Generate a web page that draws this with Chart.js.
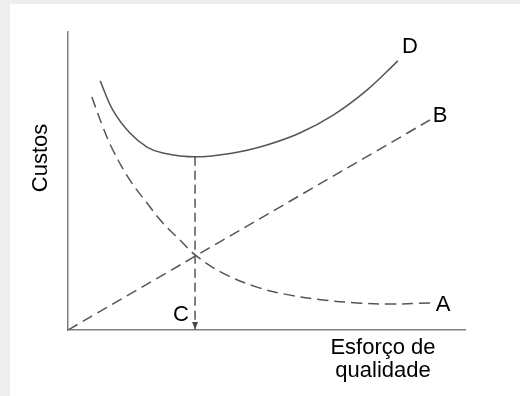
<!DOCTYPE html>
<html>
<head>
<meta charset="utf-8">
<script src="https://cdn.jsdelivr.net/npm/chart.js@4.4.1/dist/chart.umd.min.js"></script>
<style>
  html, body { margin: 0; padding: 0; background: #fff; }
  #wrap { width: 520px; height: 396px; }
</style>
</head>
<body>
<div id="wrap"><canvas id="chart" width="520" height="396"></canvas></div>
<script>
// quality effort (x) vs cost (y), both 0..100
const aX = [6.0, 8.8, 11.3, 15.6, 19.9, 23.9, 28.2, 32.0, 39.0, 47.6, 55.9, 64.2, 72.8, 81.1, 91.2];
const aY = [78.2, 68.1, 60.4, 50.3, 42.6, 35.9, 30.2, 25.2, 19.1, 14.4, 11.7, 10.1, 9.1, 8.7, 9.1];

const bX = [0, 91.2];
const bY = [0, 70.5];

const dX = [8.1, 11.3, 15.6, 19.9, 23.9, 32.0, 41.6, 50.1, 58.4, 66.8, 75.3, 83.1];
const dY = [83.6, 73.8, 66.1, 61.4, 59.4, 58.1, 59.4, 62.1, 66.1, 72.1, 80.5, 90.3];

const optimumX = 32.0;
const optimumY = 58.1;

const seriesNames = ['A', 'B', 'D'];
const optimumName = 'C';
const yTitle = 'Custos';
const xTitle = ['Esforço de', 'qualidade'];

const toPoints = (xs, ys) => xs.map((x, i) => ({ x: x, y: ys[i] }));

const lineColor = '#555555';
const font = '22px "Liberation Sans", Arial, sans-serif';

const drawExtras = {
  id: 'drawExtras',
  beforeDraw(chart) {
    const ctx = chart.ctx;
    ctx.save();
    ctx.fillStyle = '#eeeeee';
    ctx.fillRect(0, 0, chart.width, chart.height);
    ctx.fillStyle = '#ffffff';
    ctx.fillRect(10, 4, chart.width - 10, chart.height - 4);
    ctx.restore();
  },
  afterDraw(chart) {
    const ctx = chart.ctx;
    const xs = chart.scales.x, ys = chart.scales.y;
    const px = v => xs.getPixelForValue(v);
    const py = v => ys.getPixelForValue(v);

    // arrow head at the bottom of the optimum line
    const ax = px(optimumX), ay = py(0);
    ctx.save();
    ctx.fillStyle = '#444';
    ctx.beginPath();
    ctx.moveTo(ax, ay - 1);
    ctx.lineTo(ax - 3, ay - 8);
    ctx.lineTo(ax + 3, ay - 8);
    ctx.closePath();
    ctx.fill();

    ctx.fillStyle = '#000';
    ctx.font = font;
    ctx.textAlign = 'center';
    ctx.textBaseline = 'alphabetic';

    // series labels next to the line ends
    ctx.fillText(seriesNames[0], px(aX[aX.length - 1]) + 13, py(aY[aY.length - 1]) + 8);
    ctx.fillText(seriesNames[1], px(bX[bX.length - 1]) + 10, py(bY[bY.length - 1]) + 2);
    ctx.fillText(seriesNames[2], px(dX[dX.length - 1]) + 12, py(dY[dY.length - 1]) - 8);
    ctx.fillText(optimumName, px(optimumX) - 14, py(0) - 9);

    // axis titles
    ctx.fillText(xTitle[0], 383, 354);
    ctx.fillText(xTitle[1], 383, 377);
    ctx.translate(47, 158);
    ctx.rotate(-Math.PI / 2);
    ctx.fillText(yTitle, 0, 0);
    ctx.restore();
  }
};

const axis = {
  type: 'linear',
  min: 0,
  max: 100,
  grid: { display: false, drawTicks: false },
  border: { display: true, color: '#808080', width: 1.5 },
  ticks: { display: false }
};

new Chart(document.getElementById('chart'), {
  type: 'scatter',
  data: {
    datasets: [
      {
        label: seriesNames[0],
        data: toPoints(aX, aY),
        showLine: true,
        borderColor: lineColor,
        borderWidth: 1.5,
        borderDash: [11, 6],
        tension: 0.4,
        pointRadius: 0
      },
      {
        label: seriesNames[1],
        data: toPoints(bX, bY),
        showLine: true,
        borderColor: lineColor,
        borderWidth: 1.5,
        borderDash: [11, 6],
        pointRadius: 0
      },
      {
        label: seriesNames[2],
        data: toPoints(dX, dY),
        showLine: true,
        borderColor: lineColor,
        borderWidth: 1.5,
        tension: 0.4,
        pointRadius: 0
      },
      {
        label: optimumName,
        data: [{ x: optimumX, y: optimumY }, { x: optimumX, y: 0 }],
        showLine: true,
        borderColor: lineColor,
        borderWidth: 1.5,
        borderDash: [9, 5],
        pointRadius: 0
      }
    ]
  },
  options: {
    responsive: false,
    animation: false,
    layout: { padding: { left: 68, right: 55, top: 32, bottom: 66 } },
    scales: { x: axis, y: axis },
    plugins: {
      legend: { display: false },
      tooltip: { enabled: false }
    }
  },
  plugins: [drawExtras]
});
</script>
</body>
</html>
